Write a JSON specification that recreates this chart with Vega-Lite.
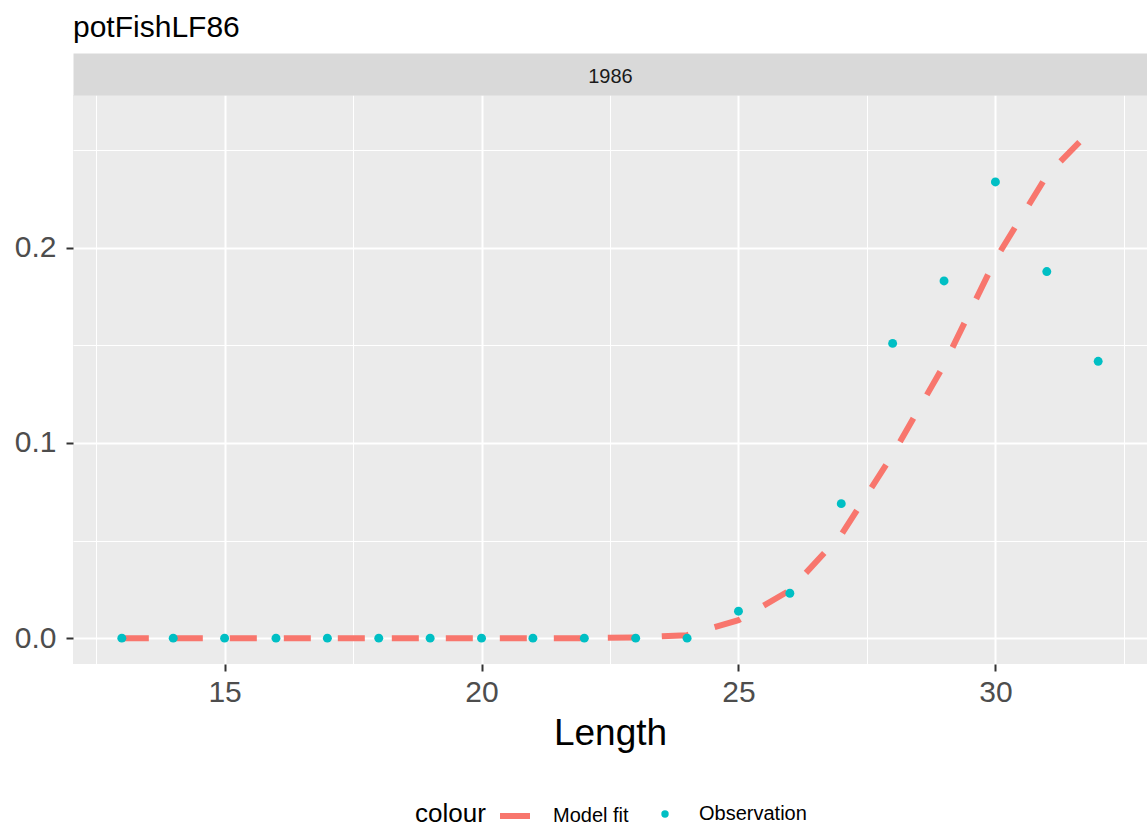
{
  "$schema": "https://vega.github.io/schema/vega-lite/v6.json",
  "width": 1074,
  "height": 569,
  "padding": {"left": 14, "top": 13, "right": 0, "bottom": 0},
  "background": "white",
  "config": {
    "font": "Liberation Sans",
    "view": {"fill": "#EBEBEB", "stroke": null}
  },
  "title": {
    "text": "potFishLF86",
    "anchor": "start",
    "frame": "group",
    "fontSize": 30,
    "fontWeight": "normal",
    "color": "#000000",
    "font": "Liberation Sans",
    "offset": 23
  },
  "datasets": {
    "fit": [
      {"Length": 13, "value": 0, "type": "Model fit"},
      {"Length": 14, "value": 0, "type": "Model fit"},
      {"Length": 15, "value": 0, "type": "Model fit"},
      {"Length": 16, "value": 0, "type": "Model fit"},
      {"Length": 17, "value": 0, "type": "Model fit"},
      {"Length": 18, "value": 0, "type": "Model fit"},
      {"Length": 19, "value": 0, "type": "Model fit"},
      {"Length": 20, "value": 0, "type": "Model fit"},
      {"Length": 21, "value": 0, "type": "Model fit"},
      {"Length": 22, "value": 0, "type": "Model fit"},
      {"Length": 23, "value": 0.0003, "type": "Model fit"},
      {"Length": 24, "value": 0.0015, "type": "Model fit"},
      {"Length": 25, "value": 0.0092, "type": "Model fit"},
      {"Length": 26, "value": 0.0245, "type": "Model fit"},
      {"Length": 27, "value": 0.053, "type": "Model fit"},
      {"Length": 28, "value": 0.094, "type": "Model fit"},
      {"Length": 29, "value": 0.140, "type": "Model fit"},
      {"Length": 30, "value": 0.194, "type": "Model fit"},
      {"Length": 31, "value": 0.237, "type": "Model fit"},
      {"Length": 32, "value": 0.264, "type": "Model fit"}
    ],
    "obs": [
      {"Length": 13, "value": 0, "type": "Observation"},
      {"Length": 14, "value": 0, "type": "Observation"},
      {"Length": 15, "value": 0, "type": "Observation"},
      {"Length": 16, "value": 0, "type": "Observation"},
      {"Length": 17, "value": 0, "type": "Observation"},
      {"Length": 18, "value": 0, "type": "Observation"},
      {"Length": 19, "value": 0, "type": "Observation"},
      {"Length": 20, "value": 0, "type": "Observation"},
      {"Length": 21, "value": 0, "type": "Observation"},
      {"Length": 22, "value": 0, "type": "Observation"},
      {"Length": 23, "value": 0, "type": "Observation"},
      {"Length": 24, "value": 0, "type": "Observation"},
      {"Length": 25, "value": 0.0138, "type": "Observation"},
      {"Length": 26, "value": 0.023, "type": "Observation"},
      {"Length": 27, "value": 0.0689, "type": "Observation"},
      {"Length": 28, "value": 0.151, "type": "Observation"},
      {"Length": 29, "value": 0.183, "type": "Observation"},
      {"Length": 30, "value": 0.2337, "type": "Observation"},
      {"Length": 31, "value": 0.1878, "type": "Observation"},
      {"Length": 32, "value": 0.1418, "type": "Observation"}
    ]
  },
  "resolve": {"axis": {"x": "independent"}},
  "layer": [
    {
      "data": {"name": "fit"},
      "mark": {"type": "line", "strokeWidth": 6, "strokeCap": "butt", "strokeDash": [27, 27]},
      "encoding": {
        "x": {
          "field": "Length",
          "type": "quantitative",
          "scale": {"domain": [12.05, 32.95], "nice": false, "zero": false},
          "axis": {
            "orient": "bottom",
            "title": "Length",
            "titleFontSize": 37,
            "titleFontWeight": "normal",
            "titleColor": "#000000",
            "titlePadding": 8,
            "values": [12.5, 15, 17.5, 20, 22.5, 25, 27.5, 30, 32.5],
            "labelExpr": "datum.value % 5 == 0 ? datum.label : ''",
            "labelFontSize": 30,
            "labelColor": "#4D4D4D",
            "labelPadding": 6,
            "labelFlush": false,
            "labelOverlap": false,
            "domain": false,
            "ticks": true,
            "tickColor": "#333333",
            "tickWidth": 2,
            "tickSize": {"condition": {"test": "datum.value % 5 == 0", "value": 7}, "value": 0},
            "grid": true,
            "gridColor": "#FFFFFF",
            "gridWidth": {"condition": {"test": "datum.value % 5 == 0", "value": 2}, "value": 1}
          }
        },
        "y": {
          "field": "value",
          "type": "quantitative",
          "scale": {"domain": [-0.01325, 0.27825], "nice": false, "zero": false},
          "axis": {
            "title": null,
            "values": [0, 0.05, 0.1, 0.15, 0.2, 0.25],
            "format": ".1f",
            "labelExpr": "round(datum.value * 100) % 10 == 0 ? datum.label : ''",
            "labelFontSize": 30,
            "labelColor": "#4D4D4D",
            "labelPadding": 10,
            "domain": false,
            "tickColor": "#333333",
            "tickWidth": 2,
            "tickSize": {"condition": {"test": "round(datum.value * 100) % 10 == 0", "value": 7}, "value": 0},
            "grid": true,
            "gridColor": "#FFFFFF",
            "gridWidth": {"condition": {"test": "round(datum.value * 100) % 10 == 0", "value": 2}, "value": 1}
          }
        },
        "stroke": {
          "field": "type",
          "type": "nominal",
          "scale": {"domain": ["Model fit"], "range": ["#F8766D"]},
          "legend": {
            "orient": "none",
            "legendX": 342,
            "legendY": 706,
            "title": "colour",
            "titleOrient": "left",
            "titleFontSize": 26,
            "titleFontWeight": "normal",
            "titleColor": "#000000",
            "titlePadding": 14,
            "titleBaseline": "middle",
            "titleAnchor": "middle",
            "symbolType": "square",
            "symbolSize": 900,
            "symbolStrokeWidth": 0,
            "labelFontSize": 20,
            "labelColor": "#000000",
            "labelOffset": 23,
            "encode": {
              "symbols": {
                "update": {
                  "fill": {"value": "#F8766D"},
                  "fillOpacity": {"value": 1},
                  "strokeWidth": {"value": 0},
                  "strokeOpacity": {"value": 0},
                  "shape": {"value": "M-1,-0.2L1,-0.2L1,0.2L-1,0.2Z"}
                }
              }
            }
          }
        }
      }
    },
    {
      "data": {"name": "obs"},
      "mark": {"type": "point", "filled": true, "size": 80, "opacity": 1},
      "encoding": {
        "x": {
          "field": "Length",
          "type": "quantitative",
          "axis": {
            "orient": "top",
            "title": "1986",
            "titleFontSize": 20,
            "titleFontWeight": "normal",
            "titleColor": "#1A1A1A",
            "titleBaseline": "middle",
            "titleX": 537,
            "titleY": 2,
            "labels": false,
            "ticks": false,
            "grid": false,
            "domain": true,
            "domainColor": "#D9D9D9",
            "domainWidth": 42,
            "offset": 21
          }
        },
        "y": {"field": "value", "type": "quantitative"},
        "fill": {
          "field": "type",
          "type": "nominal",
          "scale": {"domain": ["Observation"], "range": ["#00BFC4"]},
          "legend": {
            "orient": "none",
            "legendX": 582,
            "legendY": 709,
            "title": null,
            "symbolType": "circle",
            "symbolSize": 55,
            "symbolStrokeWidth": 0,
            "labelFontSize": 20,
            "labelColor": "#000000",
            "labelOffset": 24
          }
        }
      }
    }
  ]
}
